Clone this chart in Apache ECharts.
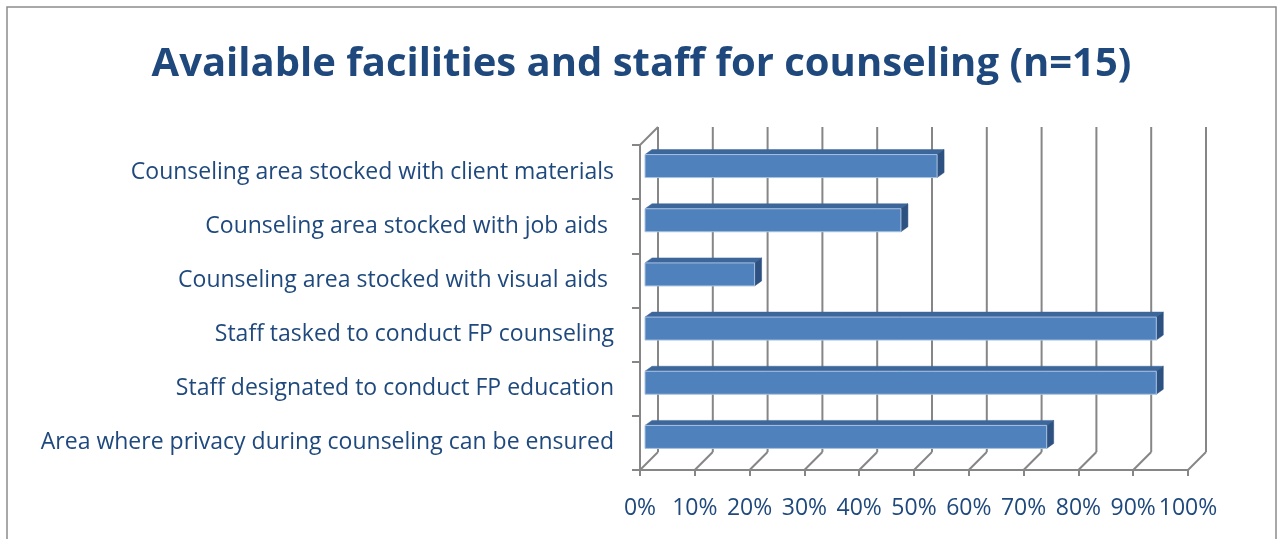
<!DOCTYPE html>
<html>
<head>
<meta charset="utf-8">
<script src="https://cdn.jsdelivr.net/npm/echarts@6/dist/echarts.min.js"></script>
<style>
  html, body { margin: 0; padding: 0; background: #fff; }
  #chart { width: 1283px; height: 539px; }
</style>
</head>
<body>
<div id="chart"></div>
<script>
// categories, top to bottom as in the picture
var categories = [
  'Counseling area stocked with client materials',
  'Counseling area stocked with job aids ',
  'Counseling area stocked with visual aids ',
  'Staff tasked to conduct FP counseling',
  'Staff designated to conduct FP education',
  'Area where privacy during counseling can be ensured'
];
// percent of facilities (n=15)
var values = [53.3, 46.7, 20.0, 93.3, 93.3, 73.3];
var xTicks = [0, 10, 20, 30, 40, 50, 60, 70, 80, 90, 100];

var textColor = '#1F497D';
var wallColor = '#868686';
var depth = 18;   // offset of the back wall

var chart = echarts.init(document.getElementById('chart'));

function wallItem(params, api) {
  var cs = params.coordSys;
  var v = api.value(0);
  var x = api.coord([v, 0])[0];
  var top = cs.y, bottom = cs.y + cs.height;
  var st = { stroke: wallColor, lineWidth: 2 };
  var kids = [
    { type: 'line', shape: { x1: x, y1: bottom, x2: x + depth, y2: bottom - depth }, style: st },
    { type: 'line', shape: { x1: x + depth, y1: bottom - depth, x2: x + depth, y2: top - depth }, style: st }
  ];
  if (v === 0) {
    kids.push({ type: 'line', shape: { x1: x, y1: top, x2: x + depth, y2: top - depth }, style: st });
  }
  return { type: 'group', children: kids, silent: true };
}

function barItem(params, api) {
  var v = api.value(0), idx = api.value(1);
  var p0 = api.coord([0, idx]);
  var p1 = api.coord([v, idx]);
  var sh = 5, dx = 7, dy = 5, h = 23;
  var x0 = p0[0] + sh, x1 = p1[0] + sh;
  var yt = p0[1] - 6 - h / 2, yb = yt + h;
  return {
    type: 'group',
    children: [
      { type: 'polygon', shape: { points: [[x0, yt], [x1, yt], [x1 + dx, yt - dy], [x0 + dx, yt - dy]] },
        style: { fill: '#3D679B', stroke: '#3D679B', lineWidth: 0.5 } },
      { type: 'polygon', shape: { points: [[x1, yt], [x1 + dx, yt - dy], [x1 + dx, yb - dy], [x1, yb]] },
        style: { fill: '#2D5180', stroke: '#2D5180', lineWidth: 0.5 } },
      { type: 'rect', shape: { x: x0, y: yt, width: x1 - x0, height: h },
        style: { fill: '#4F81BD', stroke: '#A9C2E2', lineWidth: 1 } }
    ]
  };
}

var option = {
  animation: false,
  title: {
    text: 'Available facilities and staff for counseling (n=15)',
    left: 'center',
    top: 40,
    textStyle: { color: textColor, fontSize: 40, fontWeight: 'bold', fontFamily: 'Open Sans' }
  },
  graphic: [{
    type: 'rect', shape: { x: 7, y: 7, width: 1269, height: 600 },
    style: { fill: 'none', stroke: '#8C8C8C', lineWidth: 1.5 }, silent: true
  }],
  grid: { left: 640, right: 95, top: 145, bottom: 69 },
  xAxis: {
    type: 'value', min: 0, max: 100, interval: 10,
    axisLine: { show: true, lineStyle: { color: wallColor, width: 2 } },
    axisTick: { show: true, length: 6, lineStyle: { color: wallColor, width: 2 } },
    splitLine: { show: false },
    axisLabel: { formatter: '{value}%', color: textColor, fontSize: 23, fontFamily: 'Open Sans', margin: 27 }
  },
  yAxis: {
    type: 'category', data: categories, inverse: true,
    axisLine: { show: true, lineStyle: { color: wallColor, width: 2 } },
    axisTick: { show: true, length: 8, lineStyle: { color: wallColor, width: 2 } },
    axisLabel: { color: textColor, fontSize: 23, fontFamily: 'Open Sans', margin: 26 }
  },
  series: [
    { type: 'custom', name: 'walls', renderItem: wallItem, silent: true, z: 1,
      data: xTicks.map(function (t) { return [t, 0]; }) },
    { type: 'custom', name: 'bars', renderItem: barItem, z: 3,
      data: values.map(function (v, i) { return [v, i]; }) }
  ]
};
chart.setOption(option);
</script>
</body>
</html>
